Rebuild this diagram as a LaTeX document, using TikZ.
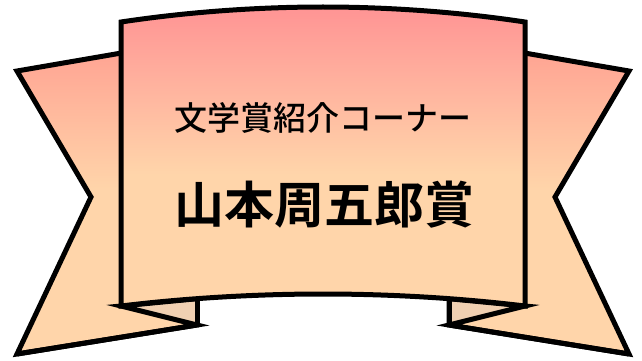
\documentclass[tikz,border=0pt]{standalone}
\usepackage{fontspec}
\newfontfamily\jp{Noto Sans CJK JP}[BoldFont={* Bold}]
\newfontfamily\jpm{Noto Sans CJK JP Medium}
\definecolor{pinktop}{RGB}{255,148,148}
\definecolor{peach}{RGB}{255,213,170}
\definecolor{wingtop}{RGB}{255,160,145}
\definecolor{foldc}{RGB}{240,208,178}
\pgfdeclareverticalshading{panelshade}{100bp}{color(0bp)=(peach); color(25bp)=(peach); color(47bp)=(peach); color(75bp)=(pinktop); color(100bp)=(pinktop)}
\pgfdeclareverticalshading{wingshade}{100bp}{color(0bp)=(peach); color(25bp)=(peach); color(51bp)=(peach); color(75bp)=(wingtop); color(100bp)=(wingtop)}
\tikzset{
  ribbonline/.style={draw=black, line width=5pt, line join=miter, miter limit=10},
  wingpart/.style={ribbonline, shading=wingshade},
  panelpart/.style={ribbonline, shading=panelshade},
  foldpart/.style={fill=foldc},
  titlesmall/.style={inner sep=0pt, font=\jpm\fontsize{33}{33}\selectfont},
  titlebig/.style={inner sep=0pt, font=\jp\bfseries\fontsize{50}{50}\selectfont},
}
\begin{document}
\begin{tikzpicture}[x=1pt,y=-1pt]
\useasboundingbox (0,0) rectangle (642,361);
% wings
\path[wingpart] (17,71) -- (197,40) -- (197,325) -- (17,354) -- (91,197) -- cycle;
\path[wingpart] (629,71) -- (449,40) -- (449,325) -- (629,354) -- (555,197) -- cycle;
% folds
\fill[foldpart] (121,306) -- (197,298.7) -- (197,325) -- cycle;
\fill[foldpart] (525,306) -- (449,298.7) -- (449,325) -- cycle;
\draw[ribbonline] (197,298.7) -- (197,325);
\draw[ribbonline] (449,298.7) -- (449,325);
\draw[ribbonline] (17,354) -- (197,325) -- (121,306) -- (197,298.7);
\draw[ribbonline] (629,354) -- (449,325) -- (525,306) -- (449,298.7);
% central panel
\path[panelpart] (121,22) parabola bend (323,7) (525,22) -- (525,306)
   parabola bend (323,294) (121,306) -- cycle;
% texts
\node[titlesmall] (t1) at (323,118) {文学賞紹介コーナー};
\node[titlebig] (t2) at (324,205) {山本周五郎賞};
\end{tikzpicture}
\end{document}
